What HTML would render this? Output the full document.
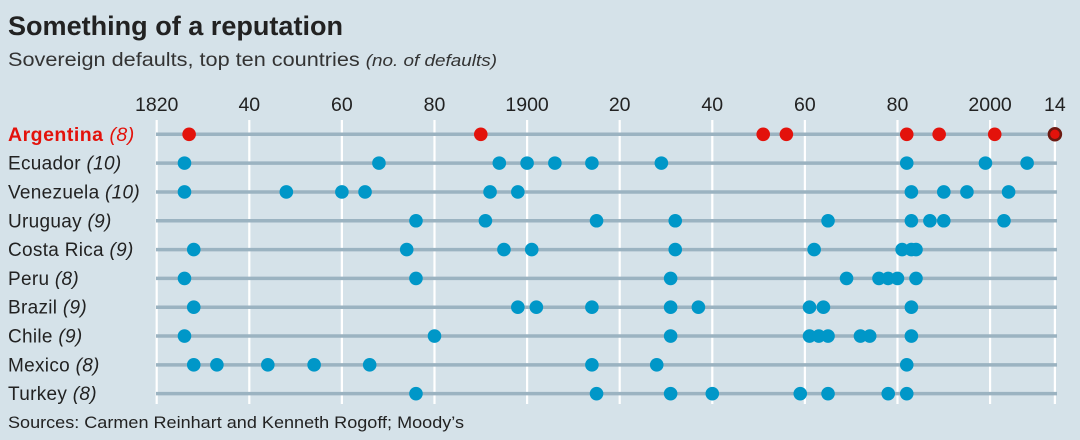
<!DOCTYPE html>
<html><head><meta charset="utf-8"><style>
html,body{margin:0;padding:0;background:#d5e2e9;}
svg{display:block;font-family:"Liberation Sans",sans-serif;}
</style></head><body>
<svg id="c" width="1080" height="440" viewBox="0 0 1080 440">
<rect width="1080" height="440" fill="#d5e2e9"/>
<text x="8" y="35" font-size="27" font-weight="bold" fill="#222" textLength="335" lengthAdjust="spacingAndGlyphs">Something of a reputation</text>
<text x="8" y="66" font-size="19.5" fill="#333" textLength="489" lengthAdjust="spacingAndGlyphs">Sovereign defaults, top ten countries <tspan font-style="italic" font-size="17">(no. of defaults)</tspan></text>
<text x="8" y="428" font-size="16.5" fill="#222" textLength="456" lengthAdjust="spacingAndGlyphs">Sources: Carmen Reinhart and Kenneth Rogoff; Moody’s</text>
<g id="grid"></g><g id="rows"></g>
</svg>
<script>
const countries=["Argentina","Ecuador","Venezuela","Uruguay","Costa Rica","Peru","Brazil","Chile","Mexico","Turkey"];
const counts=[8,10,10,9,9,8,9,9,8,8];
const argentina=[1827,1890,1951,1956,1982,1989,2001,2014];
const ecuador=[1826,1868,1894,1900,1906,1914,1929,1982,1999,2008];
const venezuela=[1826,1848,1860,1865,1892,1898,1983,1990,1995,2004];
const uruguay=[1876,1891,1915,1932,1965,1983,1987,1990,2003];
const costaRica=[1828,1874,1895,1901,1932,1962,1981,1983,1984];
const peru=[1826,1876,1931,1969,1976,1978,1980,1984];
const brazil=[1828,1898,1902,1914,1931,1937,1961,1964,1983];
const chile=[1826,1880,1931,1961,1963,1965,1972,1974,1983];
const mexico=[1828,1833,1844,1854,1866,1914,1928,1982];
const turkey=[1876,1915,1931,1940,1959,1965,1978,1982];
const tickYears=[1820,1840,1860,1880,1900,1920,1940,1960,1980,2000,2014];
const tickLabels=["1820","40","60","80","1900","20","40","60","80","2000","14"];
const series=[argentina,ecuador,venezuela,uruguay,costaRica,peru,brazil,chile,mexico,turkey];
const NS="http://www.w3.org/2000/svg";
const x=y=>156.7+(y-1820)*(1054.9-156.7)/194;
const yRow=i=>134.3+i*28.82;
function mk(t,a,p){const e=document.createElementNS(NS,t);for(const k in a)e.setAttribute(k,a[k]);p.appendChild(e);return e;}
const grid=document.getElementById('grid'),rows=document.getElementById('rows');
tickYears.forEach((ty,i)=>{
  const l=mk('line',{x1:x(ty),x2:x(ty),y1:120,y2:404,stroke:'#fff','stroke-width':2.2},grid);
  
  
  const t=mk('text',{x:x(ty),y:111,'font-size':19.5,fill:'#222','text-anchor':'middle'},grid);
  t.textContent=tickLabels[i];
  
  
});
countries.forEach((c,i)=>{
  const yy=yRow(i);
  const l=mk('line',{x1:156,x2:1057,y1:yy,y2:yy,stroke:'#9bb3c1','stroke-width':3.5},rows);
  
  
  const red=i===0;
  const t=mk('text',{x:8,y:yy+6.5,'font-size':i===0?19.5:19,fill:red?'#e3120b':'#222','font-weight':red?'bold':'normal','letter-spacing':red?0.5:0.3},rows);
  t.innerHTML=c+' <tspan font-style="italic" font-weight="normal">('+counts[i]+')</tspan>';
  
  
  series[i].forEach((yr,j)=>{
    const last=red&&j===series[i].length-1;
    const d=mk('circle',{cx:x(yr),cy:yy,r:last?6:6.8,fill:red?'#e3120b':'#0097c8'},rows);
    if(last){d.setAttribute('stroke','#6b1a12');d.setAttribute('stroke-width','2.5');}
    
    
  });
});
</script>
</body></html>
